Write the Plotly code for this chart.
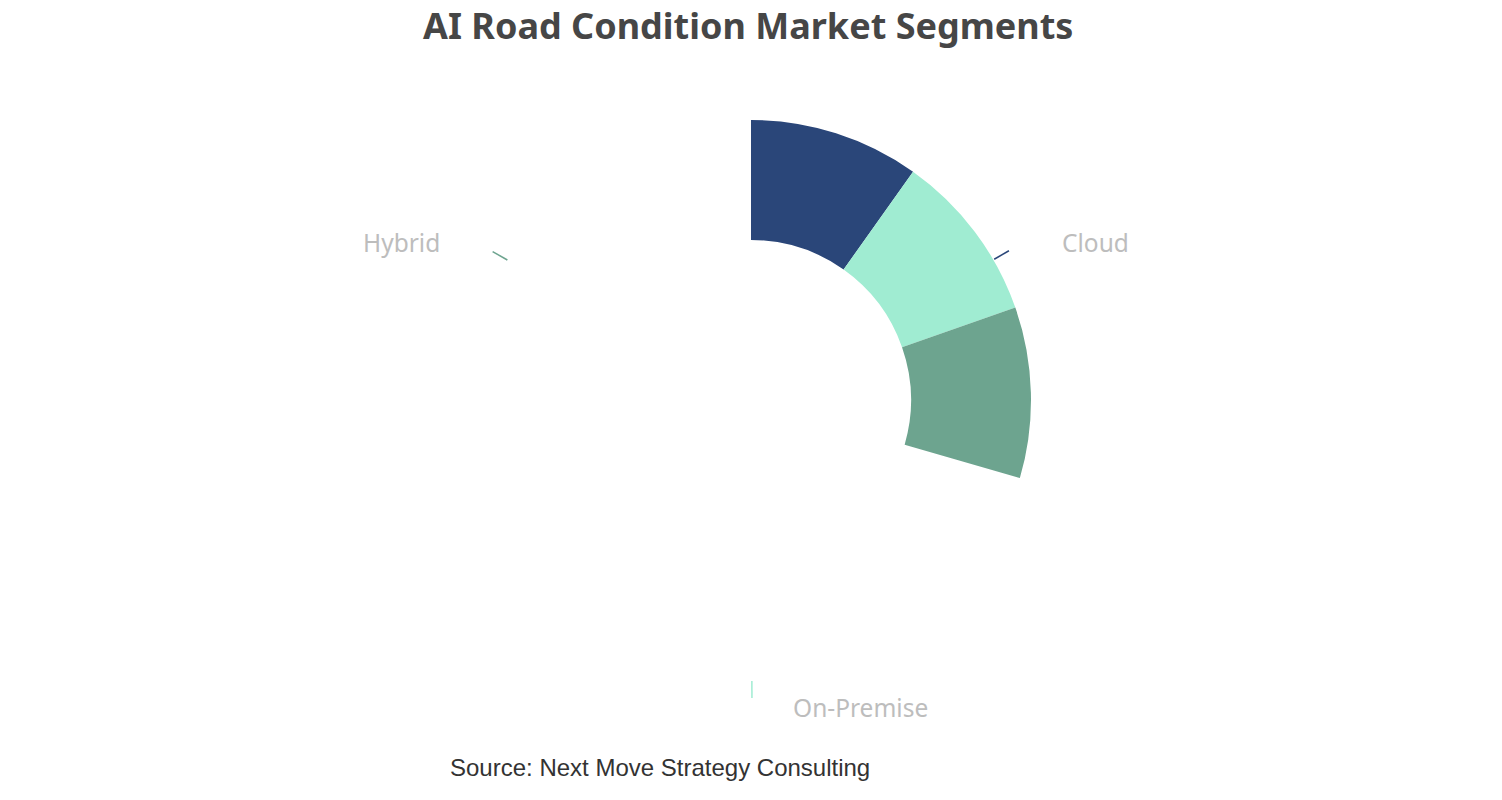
import plotly.graph_objects as go

# ---- data ----
categories = ["Cloud", "On-Premise", "Hybrid"]
shares = [33.3, 33.3, 33.4]          # equal thirds (label positions)
colors = ["#2a4679", "#a0ecd2", "#6da48f"]
sweep_progress = 0.295               # fraction of the ring that is drawn
title_text = "AI Road Condition Market Segments"
source_text = "Source: Next Move Strategy Consulting"

W, H = 1502, 800
cx, cy, R = 751, 400, 300
r_in, r_out = 160, 280


def px_x(x):
    return x / W


def px_y(y):
    return 1 - y / H


total = sum(shares)
fig = go.Figure()

# drawn (partial) sectors
start = 0.0
for cat, s, col in zip(categories, shares, colors):
    w = s / total * 360 * sweep_progress
    fig.add_trace(go.Barpolar(
        r=[r_out - r_in], base=[r_in], theta=[start + w / 2], width=[w],
        marker=dict(color=col, line=dict(width=0)), name=cat,
        hoverinfo="skip", showlegend=False))
    start += w

# label leader lines at full-pie positions
start = 0.0
for cat, s, col in zip(categories, shares, colors):
    w = s / total * 360
    mid = start + w / 2
    fig.add_trace(go.Scatterpolar(
        r=[r_out + 1, r_out + 18], theta=[mid, mid], mode="lines",
        line=dict(color=col, width=1.5), hoverinfo="skip", showlegend=False))
    start += w

fig.update_layout(
    width=W, height=H,
    margin=dict(l=0, r=0, t=0, b=0),
    paper_bgcolor="white", plot_bgcolor="white",
    polar=dict(
        domain=dict(x=[(cx - R) / W, (cx + R) / W], y=[(H - cy - R) / H, (H - cy + R) / H]),
        bgcolor="rgba(0,0,0,0)",
        radialaxis=dict(range=[0, R], visible=False, showgrid=False),
        angularaxis=dict(rotation=90, direction="clockwise", visible=False,
                         showgrid=False, showline=False, showticklabels=False, ticks=""),
        bargap=0,
    ),
)

# title as an annotation so its box stays inside the page
fig.add_annotation(text="<b>" + title_text + "</b>", x=px_x(748), y=1, xref="paper", yref="paper",
                   xanchor="center", yanchor="top", showarrow=False, borderpad=0,
                   font=dict(family="Noto Sans", size=36, color="#464646"))

label_pos = {
    "Cloud": (1060, 242, "left"),
    "On-Premise": (791, 707, "left"),
    "Hybrid": (442, 242, "right"),
}
for cat in categories:
    x0, y0, anc = label_pos[cat]
    fig.add_annotation(text=cat, x=px_x(x0), y=px_y(y0), xref="paper", yref="paper",
                       xanchor=anc, yanchor="middle", showarrow=False,
                       font=dict(family="Noto Sans", size=24.5, color="#bdbdbd"))

fig.add_annotation(text=source_text, x=px_x(660), y=px_y(767), xref="paper", yref="paper",
                   xanchor="center", yanchor="middle", showarrow=False,
                   font=dict(family="Liberation Sans, Arial", size=24, color="#333333"))

fig.write_html("out.html", config={"displayModeBar": False},
               post_script="document.body.style.margin='0';document.body.style.overflow='hidden';")
